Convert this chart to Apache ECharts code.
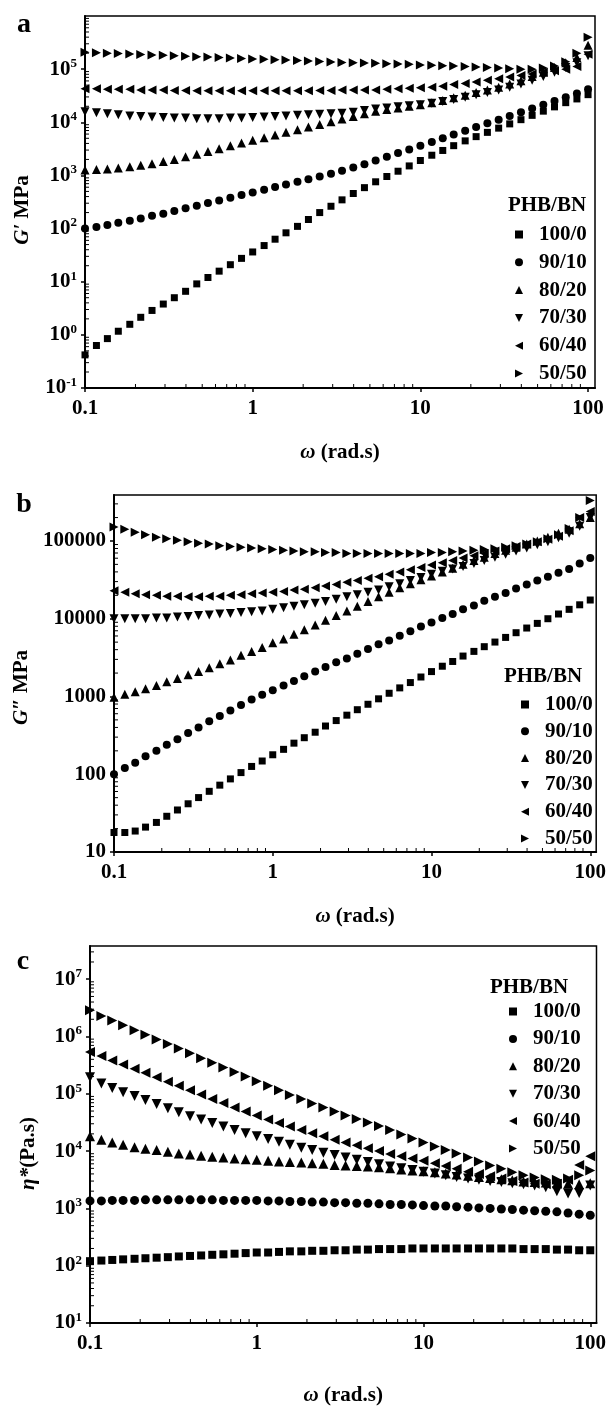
<!DOCTYPE html>
<html><head><meta charset="utf-8">
<script src="https://cdn.jsdelivr.net/npm/echarts@6/dist/echarts.min.js"></script>
<style>html,body{margin:0;padding:0;background:#fff}#chart{width:609px;height:1407px}</style>
</head><body><div id="chart"></div>
<script>
// angular frequency (rad/s)
const omega = [0.1, 0.117, 0.136, 0.158, 0.185, 0.215, 0.251, 0.293, 0.341, 0.398, 0.464, 0.541, 0.631, 0.736, 0.858,
  1, 1.17, 1.36, 1.58, 1.85, 2.15, 2.51, 2.93, 3.41, 3.98, 4.64, 5.41, 6.31, 7.36, 8.58,
  10, 11.7, 13.6, 15.8, 18.5, 21.5, 25.1, 29.3, 34.1, 39.8, 46.4, 54.1, 63.1, 73.6, 85.8, 100];
const blendNames = ['100/0', '90/10', '80/20', '70/30', '60/40', '50/50'];
const xTickLabels = ['0.1', '1', '10', '100'];

// (a) storage modulus G'
const gp_100_0 = [0.42, 0.63, 0.85, 1.17, 1.58, 2.14, 2.88, 3.8, 5.0, 6.6, 9.1, 12, 15.8, 20.9, 27.5, 36.3, 47.9, 63.1, 83.2, 110, 148, 200, 263, 347, 457, 589, 759, 955, 1200, 1510, 1910, 2400, 2950, 3630, 4470, 5370, 6460, 7760, 9330, 11200, 13500, 16200, 19500, 23400, 27500, 33100];
const gp_90_10 = [100, 107, 117, 129, 141, 155, 174, 191, 214, 240, 269, 302, 339, 380, 427, 479, 537, 603, 676, 759, 851, 955, 1070, 1230, 1410, 1620, 1910, 2240, 2630, 3090, 3630, 4270, 5010, 5890, 6920, 8130, 9550, 11200, 13200, 15500, 18200, 21400, 25100, 29500, 34700, 41700];
const gp_80_20 = [1260, 1290, 1320, 1380, 1450, 1550, 1660, 1820, 2000, 2240, 2510, 2820, 3160, 3630, 4070, 4570, 5130, 5750, 6460, 7240, 8130, 9120, 10200, 11500, 12900, 14500, 16200, 17400, 18600, 20000, 21400, 23400, 25700, 28800, 32400, 36300, 40700, 45700, 52500, 60300, 72400, 87100, 107000, 132000, 166000, 282000];
const gp_70_30 = [15800, 15100, 14500, 13800, 13200, 12900, 12600, 12300, 12000, 12000, 11700, 11700, 11700, 12000, 12000, 12300, 12600, 12900, 13200, 13500, 13800, 14100, 14500, 14800, 15500, 16600, 17800, 18600, 19500, 20400, 21400, 22900, 24500, 26900, 29500, 33100, 36300, 40700, 45700, 52500, 61700, 72400, 87100, 107000, 132000, 178000];
const gp_60_40 = [42700, 42700, 41700, 41700, 41700, 40700, 40700, 40700, 39800, 39800, 39400, 39400, 39400, 39000, 39000, 39000, 39000, 39000, 39400, 39400, 39400, 39800, 39800, 40300, 40700, 40700, 40700, 41700, 42700, 43700, 44700, 45700, 47900, 51300, 53700, 57500, 61700, 66100, 70800, 75900, 81300, 87100, 93300, 100000, 112000, 191000];
const gp_50_50 = [209000, 204000, 200000, 196000, 192000, 188000, 185000, 182000, 178000, 175000, 172000, 169000, 166000, 162000, 159000, 156000, 153000, 151000, 148000, 145000, 142000, 139000, 137000, 134000, 132000, 130000, 129000, 127000, 125000, 123000, 120000, 118000, 116000, 114000, 112000, 110000, 107000, 105000, 102000, 100000, 100000, 105000, 115000, 138000, 200000, 398000];

// (b) loss modulus G''
const gpp_100_0 = [17.8, 17.8, 18.6, 20.9, 24, 28.8, 34.7, 41.7, 50.1, 60.3, 72.4, 87.1, 105, 126, 148, 178, 209, 251, 295, 347, 417, 490, 575, 676, 794, 933, 1100, 1290, 1510, 1780, 2090, 2450, 2820, 3310, 3800, 4370, 5010, 5750, 6610, 7590, 8710, 10000, 11500, 13200, 15100, 17400];
const gpp_90_10 = [100, 120, 141, 170, 200, 240, 282, 339, 398, 479, 562, 661, 776, 912, 1050, 1200, 1380, 1580, 1820, 2090, 2400, 2750, 3090, 3550, 4070, 4680, 5250, 6030, 6920, 7940, 8910, 10200, 11500, 13200, 14800, 17000, 19100, 21400, 24500, 27500, 30900, 34700, 38900, 43700, 51300, 60300];
const gpp_80_20 = [977, 1070, 1150, 1260, 1380, 1550, 1700, 1910, 2090, 2340, 2630, 2950, 3390, 3800, 4270, 4900, 5500, 6310, 7240, 8320, 9550, 11000, 12600, 14500, 16600, 19100, 21900, 25100, 28200, 31600, 35500, 39800, 44700, 50100, 56200, 61700, 69200, 75900, 83200, 91200, 100000, 112000, 126000, 141000, 166000, 200000];
const gpp_70_30 = [10000, 10000, 10000, 10000, 10200, 10200, 10500, 10700, 11000, 11200, 11500, 11700, 12000, 12300, 12600, 13200, 13800, 14500, 15100, 15800, 16600, 17800, 19100, 20400, 21900, 23400, 25700, 28200, 30900, 33900, 37200, 40700, 43700, 46800, 51300, 56200, 61700, 67600, 74100, 81300, 89100, 97700, 110000, 126000, 155000, 200000];
const gpp_60_40 = [22900, 21900, 20900, 20400, 20000, 19500, 19500, 19100, 19100, 19500, 19500, 20000, 20400, 20900, 21400, 21900, 22400, 23400, 24000, 25100, 26300, 27500, 29500, 30900, 33100, 34700, 37200, 39800, 42700, 45700, 49000, 52500, 56200, 60300, 64600, 69200, 74100, 79400, 85100, 91200, 97700, 105000, 115000, 135000, 200000, 240000];
const gpp_50_50 = [151000, 141000, 129000, 120000, 112000, 107000, 102000, 97700, 93300, 91200, 87100, 85100, 83200, 81300, 79400, 77600, 75900, 74100, 72400, 72400, 70800, 70800, 69200, 69200, 69200, 69200, 69200, 69200, 69200, 69200, 70800, 70800, 72400, 74100, 75900, 77600, 79400, 83200, 87100, 91200, 97700, 107000, 120000, 145000, 200000, 331000];

// (c) complex viscosity eta*
const eta_100_0 = [120, 123, 126, 129, 132, 135, 138, 141, 145, 148, 151, 155, 158, 162, 166, 170, 170, 174, 178, 178, 182, 182, 186, 186, 191, 191, 195, 195, 195, 200, 200, 200, 200, 200, 200, 200, 200, 200, 200, 195, 195, 195, 191, 191, 186, 186];
const eta_90_10 = [1350, 1350, 1380, 1380, 1380, 1410, 1410, 1410, 1410, 1410, 1410, 1410, 1380, 1380, 1380, 1380, 1350, 1350, 1320, 1320, 1290, 1290, 1260, 1260, 1230, 1230, 1200, 1170, 1170, 1150, 1120, 1100, 1100, 1070, 1050, 1020, 1000, 977, 955, 933, 912, 891, 871, 832, 794, 759];
const eta_80_20 = [18200, 15800, 14100, 12900, 11700, 11000, 10500, 9770, 9120, 8710, 8320, 7940, 7760, 7410, 7240, 7080, 6760, 6610, 6460, 6310, 6170, 6030, 5750, 5620, 5500, 5370, 5250, 5010, 4790, 4570, 4470, 4270, 4070, 3890, 3720, 3550, 3390, 3240, 3090, 2950, 2880, 2820, 2750, 2690, 2630, 2750];
const eta_70_30 = [195000, 151000, 126000, 107000, 91200, 77600, 66100, 56200, 47900, 40700, 35500, 30900, 26900, 23400, 20400, 18200, 16200, 14500, 12900, 11500, 10500, 9330, 8510, 7760, 7080, 6460, 5890, 5370, 5010, 4680, 4370, 4070, 3800, 3550, 3310, 3160, 3020, 2880, 2750, 2630, 2510, 2340, 2000, 1820, 1860, 2510];
const eta_60_40 = [537000, 457000, 380000, 324000, 275000, 234000, 195000, 162000, 138000, 115000, 97700, 81300, 69200, 57500, 49000, 41700, 35500, 30900, 26900, 23400, 20400, 18200, 15800, 14100, 12600, 11200, 10000, 8910, 8130, 7410, 6760, 6170, 5500, 4900, 4370, 3980, 3630, 3310, 3020, 2820, 2690, 2630, 2690, 3160, 5750, 8130];
const eta_50_50 = [2880000, 2290000, 1910000, 1580000, 1290000, 1070000, 891000, 741000, 617000, 513000, 417000, 347000, 288000, 240000, 200000, 166000, 138000, 115000, 95500, 81300, 67600, 57500, 49000, 41700, 36300, 31600, 27500, 23400, 19500, 16600, 14100, 12000, 10500, 9120, 7760, 6610, 5620, 4900, 4270, 3800, 3470, 3240, 3160, 3310, 3800, 4570];

const FONT = '"Liberation Serif", "Times New Roman", serif';
const markers = {
  '100/0': { symbol: 'rect', rotate: 0, scale: 0.78, icon: 'path://M0,0 L10,0 L10,10 L0,10 Z' },
  '90/10': { symbol: 'circle', rotate: 0, scale: 0.9, icon: 'circle' },
  '80/20': { symbol: 'triangle', rotate: 0, scale: 1, icon: 'path://M5,0 L10,10 L0,10 Z' },
  '70/30': { symbol: 'triangle', rotate: 180, scale: 1, icon: 'path://M0,0 L10,0 L5,10 Z' },
  '60/40': { symbol: 'triangle', rotate: 90, scale: 1, icon: 'path://M10,0 L10,10 L0,5 Z' },
  '50/50': { symbol: 'triangle', rotate: -90, scale: 1, icon: 'path://M0,0 L10,5 L0,10 Z' }
};

const panels = [
  { letter: 'a', grid: { left: 85, top: 16, width: 510, height: 372 }, xMax: 110, yMin: 0.1, yMax: 1e6, pow: true,
    series: [gp_100_0, gp_90_10, gp_80_20, gp_70_30, gp_60_40, gp_50_50], mk: 9,
    yName: '{i|G′}{n| MPa}', yGap: 52, yPad: 16, xGap: 54,
    legend: { sx: 514, tx: 539, top: 219, gap: 6.8 }, head: { x: 547, y: 206 }, letterPos: [24, 25] },
  { letter: 'b', grid: { left: 114, top: 495, width: 484, height: 357 }, xMax: 109, yMin: 10, yMax: 390000, pow: false,
    series: [gpp_100_0, gpp_90_10, gpp_80_20, gpp_70_30, gpp_60_40, gpp_50_50], mk: 9,
    yName: '{i|G″}{n| MPa}', yGap: 81, yPad: 28, xGap: 54,
    legend: { sx: 520, tx: 545, top: 689, gap: 5.8 }, head: { x: 543, y: 677 }, letterPos: [24, 505] },
  { letter: 'c', grid: { left: 90, top: 946, width: 508, height: 384 }, xMax: 109, yMin: 10, yMax: 3.8e7, pow: true,
    series: [eta_100_0, eta_90_10, eta_80_20, eta_70_30, eta_60_40, eta_50_50], mk: 10,
    yName: '{i|η*}{n|(Pa.s)}', yGap: 51, yPad: 38, xGap: 62,
    legend: { sx: 508, tx: 533, top: 996, gap: 6.4 }, head: { x: 529, y: 988 }, letterPos: [23, 962] }
];

function isPow10(v) { const l = Math.log10(v); return Math.abs(l - Math.round(l)) < 1e-6; }

const option = { animation: false, backgroundColor: '#fff', grid: [], xAxis: [], yAxis: [], series: [], legend: [], graphic: [] };

const labelBase = { fontFamily: FONT, fontWeight: 'bold', color: '#000' };

panels.forEach((p, pi) => {
  option.grid.push(Object.assign({ show: true, borderColor: '#000', borderWidth: 1.5, backgroundColor: 'transparent' }, p.grid));
  option.xAxis.push({
    type: 'log', gridIndex: pi, min: 0.1, max: p.xMax, logBase: 10,
    name: '{w|ω}{n| (rad.s)}', nameLocation: 'middle', nameGap: p.xGap,
    nameTextStyle: { rich: { w: Object.assign({}, labelBase, { fontSize: 21, fontStyle: 'italic' }), n: Object.assign({}, labelBase, { fontSize: 21 }) } },
    axisLine: { show: true, lineStyle: { color: '#000', width: 2 } },
    axisTick: { show: true, inside: false, length: 4, lineStyle: { color: '#000', width: 1.5 } },
    axisLabel: Object.assign({}, labelBase, { fontSize: 21, margin: 10, showMaxLabel: false,
      formatter: v => isPow10(v) ? xTickLabels[Math.round(Math.log10(v)) + 1] || '' : '' }),
    splitLine: { show: false }
  });
  option.yAxis.push({
    type: 'log', gridIndex: pi, min: p.yMin, max: p.yMax, logBase: 10,
    name: p.yName, nameLocation: 'middle', nameGap: p.yGap,
    nameTextStyle: { padding: [0, p.yPad, 0, 0], rich: { i: Object.assign({}, labelBase, { fontSize: 21, fontStyle: 'italic' }), n: Object.assign({}, labelBase, { fontSize: 21 }) } },
    axisLine: { show: true, lineStyle: { color: '#000', width: 2 } },
    axisTick: { show: true, inside: false, length: 4, lineStyle: { color: '#000', width: 1.5 } },
    axisLabel: Object.assign({}, labelBase, { fontSize: 21, margin: 8, showMaxLabel: false,
      formatter: p.pow
        ? (v => isPow10(v) ? '{b|10}{s|' + Math.round(Math.log10(v)) + '}' : '')
        : (v => isPow10(v) ? String(Math.round(v)) : ''),
      rich: { b: Object.assign({}, labelBase, { fontSize: 21, lineHeight: 24 }), s: Object.assign({}, labelBase, { fontSize: 13, verticalAlign: 'top' }) } }),
    splitLine: { show: false }
  });
  blendNames.forEach((nm, si) => {
    const m = markers[nm];
    option.series.push({
      type: 'scatter', name: nm, xAxisIndex: pi, yAxisIndex: pi,
      symbol: m.symbol, symbolRotate: m.rotate, symbolSize: Math.round(p.mk * m.scale),
      itemStyle: { color: '#000', opacity: 1 },
      data: omega.map((w, k) => [w, p.series[si][k]]), z: 3, silent: true
    });
  });
  // minor ticks (inside) drawn through the axes' own log scales
  const minor = [];
  for (let e = -1; e <= 2; e++) for (let d = 2; d <= 9; d++) { const v = d * Math.pow(10, e); if (v < p.xMax) minor.push([v, p.yMin, 0]); }
  for (let e = Math.floor(Math.log10(p.yMin)); e <= Math.ceil(Math.log10(p.yMax)); e++) for (let d = 2; d <= 9; d++) { const v = d * Math.pow(10, e); if (v > p.yMin && v < p.yMax) minor.push([0.1, v, 1]); }
  option.series.push({
    type: 'custom', name: 'minor' + pi, xAxisIndex: pi, yAxisIndex: pi, silent: true, z: 4,
    dimensions: ['x', 'y', 'k'], encode: { x: 0, y: 1 }, data: minor,
    renderItem: (params, api) => {
      const pt = api.coord([api.value(0), api.value(1)]);
      const k = api.value(2);
      const shape = k === 0 ? { x1: pt[0], y1: pt[1], x2: pt[0], y2: pt[1] - 4 } : { x1: pt[0], y1: pt[1], x2: pt[0] + 4, y2: pt[1] };
      return { type: 'line', shape: shape, style: { stroke: '#000', lineWidth: 1 } };
    }
  });
  const isz = 8;
  option.legend.push({
    orient: 'vertical', left: p.legend.sx - isz / 2, top: p.legend.top, itemGap: p.legend.gap,
    itemWidth: isz, itemHeight: isz, symbolRotate: 0, selectedMode: false,
    data: blendNames.map(nm => ({ name: nm, icon: markers[nm].icon })),
    textStyle: Object.assign({}, labelBase, { fontSize: 21, lineHeight: 20, padding: [0, 0, 0, p.legend.tx - (p.legend.sx - isz / 2) - isz - 10] })
  });
  option.graphic.push({ type: 'text', x: p.head.x, y: p.head.y, style: { text: 'PHB/BN', font: 'bold 21px ' + FONT, fill: '#000', align: 'center', verticalAlign: 'middle' } });
  option.graphic.push({ type: 'text', x: p.letterPos[0], y: p.letterPos[1], style: { text: p.letter, font: 'bold 28px ' + FONT, fill: '#000', align: 'center', verticalAlign: 'middle' } });
});

const chart = echarts.init(document.getElementById('chart'), null, { renderer: 'canvas', width: 609, height: 1407 });
chart.setOption(option);
</script>
</body></html>
